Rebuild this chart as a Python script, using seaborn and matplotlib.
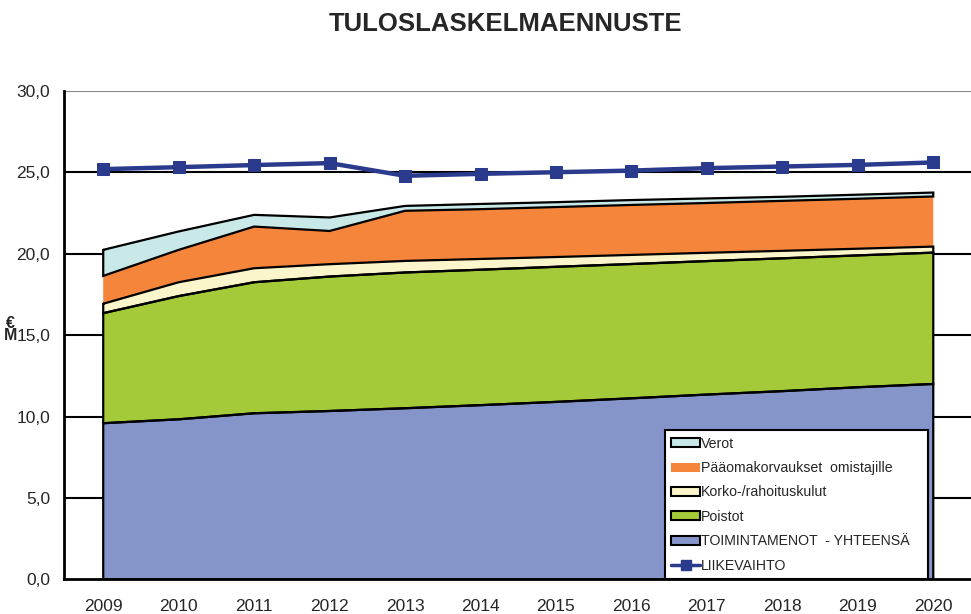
"""
Tuloslaskelmaennuste: stacked cost areas with revenue line on top.
"""

import numpy as np
import pandas as pd
import matplotlib
matplotlib.use("Agg")
import matplotlib.pyplot as plt
from matplotlib.patches import Patch
from matplotlib.lines import Line2D
import seaborn as sns

# ── data (M€) ──────────────────────────────────────────────────────────────
years = ["2009", "2010", "2011", "2012", "2013", "2014",
         "2015", "2016", "2017", "2018", "2019", "2020"]
toimintamenot = [9.59, 9.83, 10.20, 10.34, 10.51, 10.70, 10.90, 11.12, 11.35, 11.56, 11.80, 12.00]
poistot = [6.76, 7.57, 8.05, 8.26, 8.34, 8.32, 8.30, 8.25, 8.20, 8.16, 8.10, 8.07]
korko = [0.58, 0.85, 0.86, 0.76, 0.71, 0.66, 0.60, 0.56, 0.51, 0.46, 0.41, 0.37]
paaomakorvaukset = [1.71, 1.99, 2.56, 2.04, 3.08, 3.06, 3.07, 3.07, 3.06, 3.07, 3.07, 3.08]
verot = [1.60, 1.13, 0.72, 0.83, 0.30, 0.32, 0.30, 0.30, 0.28, 0.25, 0.25, 0.24]
liikevaihto = [25.20, 25.32, 25.45, 25.57, 24.79, 24.91, 25.01, 25.11, 25.26, 25.36, 25.46, 25.61]

layer_names = ["TOIMINTAMENOT  - YHTEENSÄ", "Poistot", "Korko-/rahoituskulut",
               "Pääomakorvaukset  omistajille", "Verot"]
layer_colors = ["#8595CA", "#A4CA3A", "#FBF5CB", "#F4853A", "#C9E9E9"]
layer_edges = ["black", "black", "black", "none", "black"]
line_color = "#2A3A8C"

sns.set_style("white")
plt.rcParams["font.family"] = ["Liberation Sans", "DejaVu Sans"]


def main():
    df = pd.DataFrame({"x": np.arange(len(years)), "LIIKEVAIHTO": liikevaihto})
    layers = [toimintamenot, poistot, korko, paaomakorvaukset, verot]

    fig = plt.figure(figsize=(9.71, 6.14), dpi=100)
    ax = fig.add_axes([0.0659, 0.0565, 0.9341, 0.7953])

    # horizontal grid lines
    for v in [5, 10, 15, 20, 25]:
        ax.axhline(v, color="black", lw=1.5, zorder=1)
    ax.axhline(30, color="#888888", lw=1.5, zorder=1)

    # stacked areas, each outlined in black
    bottom = np.zeros(len(years))
    x = df["x"].to_numpy()
    for vals, name, col, ec in zip(layers, layer_names, layer_colors, layer_edges):
        top = bottom + np.array(vals)
        ax.fill_between(x, bottom, top, facecolor=col, edgecolor="none", zorder=2)
        if ec != "none":
            poly_x = np.concatenate([x, x[::-1], x[:1]])
            poly_y = np.concatenate([top, bottom[::-1], top[:1]])
            ax.plot(poly_x, poly_y, color="black", lw=1.6, zorder=3,
                    solid_joinstyle="miter")
        bottom = top

    sns.lineplot(data=df, x="x", y="LIIKEVAIHTO", color=line_color, lw=3.2,
                 marker="s", markersize=9, markeredgecolor=line_color,
                 ax=ax, zorder=5, clip_on=False)

    ax.set_xlim(-0.52, 11.42)
    ax.set_ylim(0, 30)
    ax.set_yticks(np.arange(0, 31, 5))
    ax.set_yticklabels([f"{v},0" for v in range(0, 31, 5)], fontsize=12.5)
    ax.set_xticks(x)
    ax.set_xticklabels(years, fontsize=12.5)
    ax.set_xticks(np.arange(-0.5, 11.6, 1.0), minor=True)
    ax.tick_params(axis="x", which="major", length=0, pad=14)
    ax.tick_params(axis="x", which="minor", length=5, width=1.5, direction="out")
    ax.tick_params(axis="y", length=7, width=1.5, direction="out", pad=3)
    ax.set_xlabel("")
    ax.set_ylabel("")
    for side in ["top", "right"]:
        ax.spines[side].set_visible(False)
    for side in ["left", "bottom"]:
        ax.spines[side].set_linewidth(2)
        ax.spines[side].set_color("black")
        ax.spines[side].set_zorder(6)

    # legend
    handles = [
        Patch(facecolor=layer_colors[4], edgecolor="black", lw=1.5, label=layer_names[4]),
        Patch(facecolor=layer_colors[3], edgecolor="none", label=layer_names[3]),
        Patch(facecolor=layer_colors[2], edgecolor="black", lw=1.5, label=layer_names[2]),
        Patch(facecolor=layer_colors[1], edgecolor="black", lw=1.5, label=layer_names[1]),
        Patch(facecolor=layer_colors[0], edgecolor="black", lw=1.5, label=layer_names[0]),
        Line2D([], [], color=line_color, lw=2.5, marker="s", markersize=7, label="LIIKEVAIHTO"),
    ]
    leg = ax.legend(handles=handles, loc="lower left",
                    bbox_to_anchor=(0.6626, 0.0, 0.29, 0.302), mode="expand",
                    fontsize=10.2, frameon=True, fancybox=False, framealpha=1,
                    edgecolor="black", handlelength=2.0, handleheight=0.6,
                    handletextpad=0.1, labelspacing=0.74, borderpad=0.45,
                    borderaxespad=0)
    leg.get_frame().set_linewidth(1.5)
    leg.set_zorder(7)

    fig.text(0.521, 0.961, "TULOSLASKELMAENNUSTE", ha="center", va="center",
             fontsize=18.5, fontweight="bold")
    fig.text(0.011, 0.464, "€\nM", ha="center", va="center", fontsize=11.5,
             fontweight="bold", linespacing=0.75)

    fig.savefig("out.png", dpi=100)


if __name__ == "__main__":
    main()
